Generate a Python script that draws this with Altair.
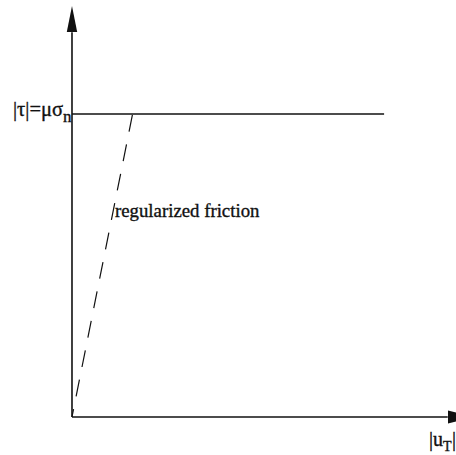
import altair as alt
import pandas as pd

# Coulomb friction law: stick/slip limit and its regularized (penalty) branch
mu_sigma_n = 1.0          # friction bound |tau| = mu * sigma_n
slip_reg = 0.2            # slip at which the regularized branch reaches the bound
plateau_end = 1.03        # extent of the drawn plateau
x_axis_end = 1.24         # length of the |u_T| axis
y_axis_end = 1.27         # length of the |tau| axis

reg_slip = [0.0, slip_reg]
reg_tau = [0.0, mu_sigma_n]
plateau_slip = [0.0, plateau_end]
plateau_tau = [mu_sigma_n, mu_sigma_n]

x_dom = [-0.2376, 1.2673]
y_dom = [-0.1254, 1.3762]

xs = alt.Scale(domain=x_dom, nice=False, zero=False)
ys = alt.Scale(domain=y_dom, nice=False, zero=False)
X = lambda f: alt.X(f, type="quantitative", scale=xs, axis=None)
Y = lambda f: alt.Y(f, type="quantitative", scale=ys, axis=None)

ink = "#111111"

# axes drawn as rules from the origin
axes_df = pd.DataFrame({
    "x": [0.0, 0.0], "x2": [x_axis_end, 0.0],
    "y": [0.0, 0.0], "y2": [0.0, y_axis_end],
})
axes = alt.Chart(axes_df).mark_rule(color=ink, strokeWidth=1.6).encode(
    x=X("x"), x2="x2", y=Y("y"), y2="y2"
)

# arrowheads
head_up = pd.DataFrame({"x": [0.0], "y": [1.3135]})
arrow_up = alt.Chart(head_up).mark_point(
    shape="M0,-1L0.4,1L-0.4,1Z", size=676, filled=True, color=ink, opacity=1
).encode(x=X("x"), y=Y("y"))

head_right = pd.DataFrame({"x": [1.2838], "y": [0.0]})
arrow_right = alt.Chart(head_right).mark_point(
    shape="M1,0L-1,-0.5L-1,0.5Z", size=676, filled=True, color=ink, opacity=1
).encode(x=X("x"), y=Y("y"))

# plateau |tau| = mu sigma_n
plateau = alt.Chart(pd.DataFrame({"u": plateau_slip, "t": plateau_tau})).mark_line(
    color=ink, strokeWidth=1.5
).encode(x=X("u"), y=Y("t"))

# regularized friction branch
reg = alt.Chart(pd.DataFrame({"u": reg_slip, "t": reg_tau})).mark_line(
    color=ink, strokeWidth=1.2, strokeDash=[17, 13], strokeDashOffset=9
).encode(x=X("u"), y=Y("t"))

serif = "Liberation Serif"

def label(text, x, y, size, align="left"):
    return alt.Chart(pd.DataFrame({"x": [x], "y": [y], "s": [text]})).mark_text(
        font=serif, fontSize=size, fill=ink, stroke=ink, strokeWidth=0.35,
        align=align, baseline="alphabetic"
    ).encode(x=X("x"), y=Y("y"), text="s:N")

tau_lbl = label("|τ|=μσ", -0.0297, 0.9934, 20.5, align="right")
tau_sub = label("n", -0.0297, 0.9736, 17)
reg_lbl = label("regularized friction", 0.1419, 0.660, 18.8)
u_lbl = label("|u", 1.1782, -0.0957, 20)
u_sub = label("T", 1.2244, -0.1122, 14)
u_bar = label("|", 1.2541, -0.0957, 20)

chart = alt.layer(
    axes, plateau, reg, arrow_up, arrow_right,
    tau_lbl, tau_sub, reg_lbl, u_lbl, u_sub, u_bar
).properties(
    width=456, height=455, padding=0, autosize=alt.AutoSizeParams(type="none")
).configure_view(stroke=None)

chart.save("out.html", embed_options={"renderer": "svg", "actions": False})
